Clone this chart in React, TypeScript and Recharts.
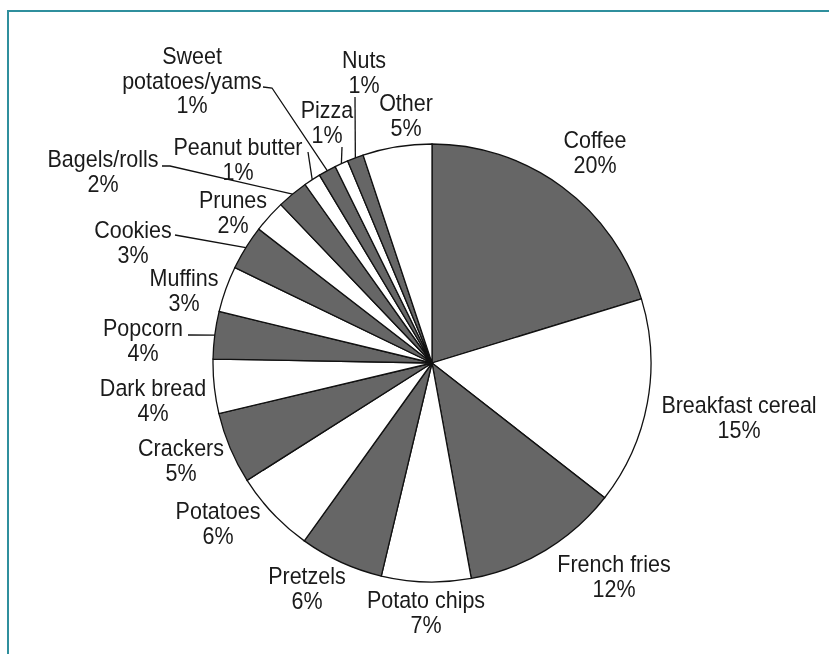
import React from "react";
import { PieChart, Pie, Cell } from "recharts";

// slice order, clockwise from 12 o'clock
const categories = [
  "Coffee",
  "Breakfast cereal",
  "French fries",
  "Potato chips",
  "Pretzels",
  "Potatoes",
  "Crackers",
  "Dark bread",
  "Popcorn",
  "Muffins",
  "Cookies",
  "Prunes",
  "Bagels/rolls",
  "Peanut butter",
  "Sweet potatoes/yams",
  "Pizza",
  "Nuts",
  "Other",
];

// slice sizes
const shares = [20.3, 15.3, 11.6, 6.6, 6.2, 6.1, 5.3, 4.0, 3.5, 3.4, 3.3, 2.4, 2.3, 1.25, 1.3, 1.0, 1.2, 5.1];

// percentages as printed on the labels
const printed = ["20%", "15%", "12%", "7%", "6%", "6%", "5%", "4%", "4%", "3%", "3%", "2%", "2%", "1%", "1%", "1%", "1%", "5%"];

const DARK = "#666666";
const LIGHT = "#ffffff";
const FONT = 21.5;
const STRETCH = 1.08; // glyphs in the original are a touch taller than Arial
const LINE_H = 24.5;

// label placement relative to pie centre (dx, dy = centre of first text line)
// leader: bend points relative to centre, line ends on the slice's arc
const LABELS: Record<string, { dx: number; dy: number; lines?: string[]; leader?: [number, number][] }> = {
  "Coffee": { dx: 163, dy: -223 },
  "Breakfast cereal": { dx: 307, dy: 42 },
  "French fries": { dx: 182, dy: 201 },
  "Potato chips": { dx: -6, dy: 237 },
  "Pretzels": { dx: -125, dy: 213 },
  "Potatoes": { dx: -214, dy: 148 },
  "Crackers": { dx: -251, dy: 85 },
  "Dark bread": { dx: -279, dy: 25 },
  "Popcorn": { dx: -289, dy: -35, leader: [[-244, -28]] },
  "Muffins": { dx: -248, dy: -85 },
  "Cookies": { dx: -299, dy: -133, leader: [[-257, -128]] },
  "Prunes": { dx: -199, dy: -163 },
  "Bagels/rolls": { dx: -329, dy: -204, leader: [[-270, -197], [-262, -197]] },
  "Peanut butter": { dx: -194, dy: -216, leader: [[-124, -211]] },
  "Sweet potatoes/yams": {
    dx: -240,
    dy: -307,
    lines: ["Sweet", "potatoes/yams"],
    leader: [[-169, -276], [-160, -275]],
  },
  "Pizza": { dx: -105, dy: -253, leader: [[-90, -216]] },
  "Nuts": { dx: -68, dy: -303, leader: [[-77, -266]] },
  "Other": { dx: -26, dy: -260 },
};

const data = categories.map((name, i) => ({ name, value: shares[i], pct: printed[i] }));

const RADIAN = Math.PI / 180;

function renderLabel(props: any) {
  const { cx, cy, midAngle, outerRadius, index } = props;
  const name = categories[index];
  const cfg = LABELS[name];
  if (!cfg) return null;
  const lines = [...(cfg.lines || [name]), printed[index]];
  const tx = cx + cfg.dx;
  let leader = null;
  if (cfg.leader) {
    const ex = cx + outerRadius * Math.cos(-midAngle * RADIAN);
    const ey = cy + outerRadius * Math.sin(-midAngle * RADIAN);
    const pts = cfg.leader.map(([px, py]) => `${cx + px},${cy + py}`).concat(`${ex},${ey}`);
    leader = <polyline points={pts.join(" ")} fill="none" stroke="#111" strokeWidth={1.3} />;
  }
  return (
    <g key={`lbl-${index}`}>
      {leader}
      {lines.map((t, k) => (
        <text
          key={k}
          transform={`translate(${tx},${cy + cfg.dy + k * LINE_H}) scale(1,${STRETCH})`}
          x={0}
          y={FONT * 0.36}
          textAnchor="middle"
          fill="#1a1a1a"
          fontSize={FONT}
          fontFamily="'Liberation Sans', Arial, sans-serif"
        >
          {t}
        </text>
      ))}
    </g>
  );
}

export default function App() {
  return (
    <div style={{ position: "relative", width: 813, height: 630 }}>
      <div
        style={{
          position: "fixed",
          left: 7,
          top: 10,
          width: 840,
          height: 660,
          borderTop: "2px solid #2f8f9d",
          borderLeft: "2px solid #2f8f9d",
        }}
      />
      <div style={{ position: "absolute", left: 0, top: 0 }}>
        <PieChart width={813} height={630}>
          <Pie
            data={data}
            dataKey="value"
            nameKey="name"
            cx={419}
            cy={350}
            outerRadius={219}
            startAngle={90}
            endAngle={-270}
            stroke="#111"
            strokeWidth={1.3}
            label={renderLabel}
            labelLine={false}
            isAnimationActive={false}
          >
            {data.map((d, i) => (
              <Cell key={d.name} fill={i % 2 === 0 ? DARK : LIGHT} />
            ))}
          </Pie>
        </PieChart>
      </div>
    </div>
  );
}
